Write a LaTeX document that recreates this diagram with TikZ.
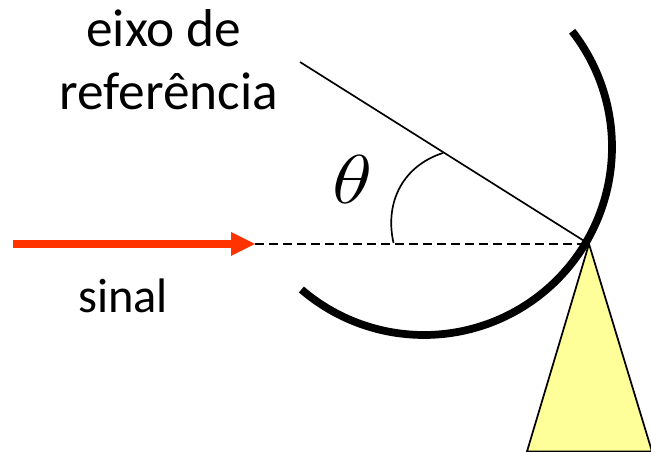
\documentclass[tikz,border=0pt]{standalone}
\usepackage{fontspec}
\setmainfont{Carlito}
\definecolor{sig}{HTML}{FF3300}
\definecolor{stand}{HTML}{FFFF99}
\tikzset{
  lab/.style={inner sep=0pt,anchor=base,align=center,text=black},
  thin line/.style={line width=1.25pt,draw=black},
}
\begin{document}
\begin{tikzpicture}[x=0.75pt,y=-0.75pt]
\useasboundingbox (0,0) rectangle (651,452);
\coordinate (apex) at (589,244);
\coordinate (baseL) at (527,451.5);
\coordinate (baseR) at (652,451.5);
\coordinate (refEnd) at (300,62);
\coordinate (sigStart) at (13,244);
\coordinate (sigTip) at (255,244);
\coordinate (sigBase) at (231,244);
% stand
\draw[fill=stand,line width=1.3pt] (apex) -- (baseR) -- (baseL) -- cycle;
% dashed axis and reference axis
\draw[line width=1.5pt,dash pattern=on 6.6pt off 3.9pt] (sigTip) -- (apex);
\draw[thin line] (refEnd) -- (apex);
% angle arc
\draw[thin line] (393.5,243) .. controls (384,200) and (405,165) .. (443,153);
% dish
\draw[line width=5.8pt] plot[domain=229.3:398,samples=120,smooth] ({424+188*cos(\x)},{147-188*sin(\x)});
% signal
\draw[line width=6pt,draw=sig] (sigStart) -- (sigBase);
\fill[sig] (231,232) -- (sigTip) -- (231,256) -- cycle;
% labels
\node[lab,font=\fontsize{40}{40}\selectfont] (t1) at (164,47) {eixo de};
\node[lab,font=\fontsize{40}{40}\selectfont] (t2) at (169,110) {referência};
\node[lab,font=\fontsize{36.3}{36}\selectfont] (t3) at (123,313) {sinal};
\node[inner sep=0pt,anchor=base] (th) at (352.5,204) {\scalebox{3.0}[2.5]{\fontsize{20}{20}\selectfont$\theta$}};
\end{tikzpicture}
\end{document}
